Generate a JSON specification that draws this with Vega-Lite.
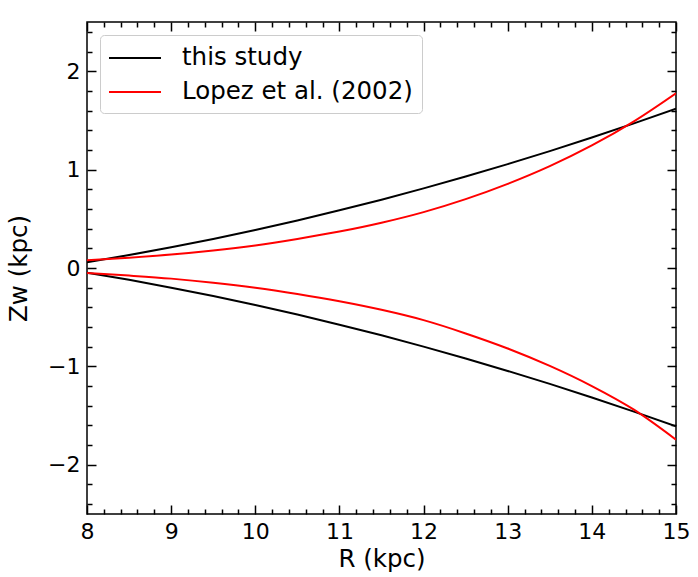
{
  "$schema": "https://vega.github.io/schema/vega-lite/v6.json",
  "width": 589,
  "height": 492,
  "autosize": {"type": "none"},
  "padding": {"left": 87, "top": 22, "right": 22, "bottom": 63},
  "background": "white",
  "config": {
    "view": {"stroke": "black", "strokeWidth": 1.5},
    "font": "DejaVu Sans",
    "axis": {
      "labelFont": "DejaVu Sans",
      "labelFontSize": 22,
      "labelColor": "black",
      "titleFont": "DejaVu Sans",
      "titleFontSize": 24.5,
      "titleFontWeight": "normal",
      "titleColor": "black",
      "tickColor": "black",
      "tickWidth": 1.5,
      "grid": false,
      "domain": false
    },
    "legend": {
      "labelFont": "DejaVu Sans",
      "labelFontSize": 24.5,
      "labelColor": "black"
    }
  },
  "data": {
    "values": [
      {"model": "this study", "curve": "ts_up", "R": 8.0, "Z": 0.058},
      {"model": "this study", "curve": "ts_up", "R": 8.5, "Z": 0.131},
      {"model": "this study", "curve": "ts_up", "R": 9.0, "Z": 0.21},
      {"model": "this study", "curve": "ts_up", "R": 9.5, "Z": 0.295},
      {"model": "this study", "curve": "ts_up", "R": 10.0, "Z": 0.386},
      {"model": "this study", "curve": "ts_up", "R": 10.5, "Z": 0.483},
      {"model": "this study", "curve": "ts_up", "R": 11.0, "Z": 0.586},
      {"model": "this study", "curve": "ts_up", "R": 11.5, "Z": 0.694},
      {"model": "this study", "curve": "ts_up", "R": 12.0, "Z": 0.809},
      {"model": "this study", "curve": "ts_up", "R": 12.5, "Z": 0.929},
      {"model": "this study", "curve": "ts_up", "R": 13.0, "Z": 1.056},
      {"model": "this study", "curve": "ts_up", "R": 13.5, "Z": 1.188},
      {"model": "this study", "curve": "ts_up", "R": 14.0, "Z": 1.326},
      {"model": "this study", "curve": "ts_up", "R": 14.5, "Z": 1.47},
      {"model": "this study", "curve": "ts_up", "R": 15.0, "Z": 1.62},
      {"model": "this study", "curve": "ts_low", "R": 8.0, "Z": -0.047},
      {"model": "this study", "curve": "ts_low", "R": 8.5, "Z": -0.12},
      {"model": "this study", "curve": "ts_low", "R": 9.0, "Z": -0.2},
      {"model": "this study", "curve": "ts_low", "R": 9.5, "Z": -0.285},
      {"model": "this study", "curve": "ts_low", "R": 10.0, "Z": -0.376},
      {"model": "this study", "curve": "ts_low", "R": 10.5, "Z": -0.473},
      {"model": "this study", "curve": "ts_low", "R": 11.0, "Z": -0.576},
      {"model": "this study", "curve": "ts_low", "R": 11.5, "Z": -0.684},
      {"model": "this study", "curve": "ts_low", "R": 12.0, "Z": -0.799},
      {"model": "this study", "curve": "ts_low", "R": 12.5, "Z": -0.92},
      {"model": "this study", "curve": "ts_low", "R": 13.0, "Z": -1.046},
      {"model": "this study", "curve": "ts_low", "R": 13.5, "Z": -1.178},
      {"model": "this study", "curve": "ts_low", "R": 14.0, "Z": -1.316},
      {"model": "this study", "curve": "ts_low", "R": 14.5, "Z": -1.46},
      {"model": "this study", "curve": "ts_low", "R": 15.0, "Z": -1.61},
      {"model": "Lopez et al. (2002)", "curve": "lz_up", "R": 8.0, "Z": 0.08},
      {"model": "Lopez et al. (2002)", "curve": "lz_up", "R": 8.5, "Z": 0.105},
      {"model": "Lopez et al. (2002)", "curve": "lz_up", "R": 9.0, "Z": 0.136},
      {"model": "Lopez et al. (2002)", "curve": "lz_up", "R": 9.5, "Z": 0.177},
      {"model": "Lopez et al. (2002)", "curve": "lz_up", "R": 10.0, "Z": 0.229},
      {"model": "Lopez et al. (2002)", "curve": "lz_up", "R": 10.5, "Z": 0.295},
      {"model": "Lopez et al. (2002)", "curve": "lz_up", "R": 11.0, "Z": 0.37},
      {"model": "Lopez et al. (2002)", "curve": "lz_up", "R": 11.5, "Z": 0.46},
      {"model": "Lopez et al. (2002)", "curve": "lz_up", "R": 12.0, "Z": 0.568},
      {"model": "Lopez et al. (2002)", "curve": "lz_up", "R": 12.5, "Z": 0.7},
      {"model": "Lopez et al. (2002)", "curve": "lz_up", "R": 13.0, "Z": 0.855},
      {"model": "Lopez et al. (2002)", "curve": "lz_up", "R": 13.5, "Z": 1.035},
      {"model": "Lopez et al. (2002)", "curve": "lz_up", "R": 14.0, "Z": 1.245},
      {"model": "Lopez et al. (2002)", "curve": "lz_up", "R": 14.5, "Z": 1.49},
      {"model": "Lopez et al. (2002)", "curve": "lz_up", "R": 15.0, "Z": 1.775},
      {"model": "Lopez et al. (2002)", "curve": "lz_low", "R": 8.0, "Z": -0.05},
      {"model": "Lopez et al. (2002)", "curve": "lz_low", "R": 8.5, "Z": -0.077},
      {"model": "Lopez et al. (2002)", "curve": "lz_low", "R": 9.0, "Z": -0.108},
      {"model": "Lopez et al. (2002)", "curve": "lz_low", "R": 9.5, "Z": -0.149},
      {"model": "Lopez et al. (2002)", "curve": "lz_low", "R": 10.0, "Z": -0.2},
      {"model": "Lopez et al. (2002)", "curve": "lz_low", "R": 10.5, "Z": -0.264},
      {"model": "Lopez et al. (2002)", "curve": "lz_low", "R": 11.0, "Z": -0.338},
      {"model": "Lopez et al. (2002)", "curve": "lz_low", "R": 11.5, "Z": -0.425},
      {"model": "Lopez et al. (2002)", "curve": "lz_low", "R": 12.0, "Z": -0.53},
      {"model": "Lopez et al. (2002)", "curve": "lz_low", "R": 12.5, "Z": -0.665},
      {"model": "Lopez et al. (2002)", "curve": "lz_low", "R": 13.0, "Z": -0.818},
      {"model": "Lopez et al. (2002)", "curve": "lz_low", "R": 13.5, "Z": -0.995},
      {"model": "Lopez et al. (2002)", "curve": "lz_low", "R": 14.0, "Z": -1.2},
      {"model": "Lopez et al. (2002)", "curve": "lz_low", "R": 14.5, "Z": -1.44},
      {"model": "Lopez et al. (2002)", "curve": "lz_low", "R": 15.0, "Z": -1.745}
    ]
  },
  "resolve": {"axis": {"x": "independent", "y": "independent"}},
  "layer": [
    {
      "mark": {"type": "line", "strokeWidth": 2, "interpolate": "monotone", "clip": true},
      "encoding": {
        "x": {
          "field": "R", "type": "quantitative",
          "scale": {"domain": [8, 15], "nice": false, "zero": false},
          "axis": {"orient": "bottom", "values": [8, 9, 10, 11, 12, 13, 14, 15], "tickSize": -9, "labelPadding": 16, "title": "R (kpc)", "titlePadding": 5, "labelFlush": false}
        },
        "y": {
          "field": "Z", "type": "quantitative",
          "scale": {"domain": [-2.5, 2.5], "nice": false, "zero": false},
          "axis": {"orient": "left", "values": [-2, -1, 0, 1, 2], "tickSize": -9, "labelPadding": 16, "title": "Zw (kpc)", "titlePadding": 16, "labelFlush": false}
        },
        "color": {
          "field": "model", "type": "nominal",
          "scale": {"domain": ["this study", "Lopez et al. (2002)"], "range": ["#000000", "#ff0000"]},
          "legend": {
            "title": null, "orient": "top-left", "offset": 13,
            "symbolType": "M-1.077,0H2.923", "symbolSize": 676, "symbolStrokeWidth": 2,
            "labelOffset": 45, "labelLimit": 500, "rowPadding": 8, "padding": 9,
            "strokeColor": "#cccccc", "fillColor": "white", "cornerRadius": 4
          }
        },
        "detail": {"field": "curve"}
      }
    },
    {
      "mark": {"type": "line", "opacity": 0},
      "encoding": {
        "x": {
          "field": "R", "type": "quantitative",
          "axis": {"orient": "bottom", "values": [8.2, 8.4, 8.6, 8.8, 9.2, 9.4, 9.6, 9.8, 10.2, 10.4, 10.6, 10.8, 11.2, 11.4, 11.6, 11.8, 12.2, 12.4, 12.6, 12.8, 13.2, 13.4, 13.6, 13.8, 14.2, 14.4, 14.6, 14.8], "tickSize": -5, "labels": false, "title": null}
        },
        "y": {
          "field": "Z", "type": "quantitative",
          "axis": {"orient": "left", "values": [-2.4, -2.2, -1.8, -1.6, -1.4, -1.2, -0.8, -0.6, -0.4, -0.2, 0.2, 0.4, 0.6, 0.8, 1.2, 1.4, 1.6, 1.8, 2.2, 2.4], "tickSize": -5, "labels": false, "title": null}
        },
        "detail": {"field": "curve"}
      }
    },
    {
      "mark": {"type": "line", "opacity": 0},
      "encoding": {
        "x": {
          "field": "R", "type": "quantitative",
          "axis": {"orient": "top", "values": [8, 9, 10, 11, 12, 13, 14, 15], "tickSize": -9, "labels": false, "title": null}
        },
        "y": {
          "field": "Z", "type": "quantitative",
          "axis": {"orient": "right", "values": [-2, -1, 0, 1, 2], "tickSize": -9, "labels": false, "title": null}
        },
        "detail": {"field": "curve"}
      }
    },
    {
      "mark": {"type": "line", "opacity": 0},
      "encoding": {
        "x": {
          "field": "R", "type": "quantitative",
          "axis": {"orient": "top", "values": [8.2, 8.4, 8.6, 8.8, 9.2, 9.4, 9.6, 9.8, 10.2, 10.4, 10.6, 10.8, 11.2, 11.4, 11.6, 11.8, 12.2, 12.4, 12.6, 12.8, 13.2, 13.4, 13.6, 13.8, 14.2, 14.4, 14.6, 14.8], "tickSize": -5, "labels": false, "title": null}
        },
        "y": {
          "field": "Z", "type": "quantitative",
          "axis": {"orient": "right", "values": [-2.4, -2.2, -1.8, -1.6, -1.4, -1.2, -0.8, -0.6, -0.4, -0.2, 0.2, 0.4, 0.6, 0.8, 1.2, 1.4, 1.6, 1.8, 2.2, 2.4], "tickSize": -5, "labels": false, "title": null}
        },
        "detail": {"field": "curve"}
      }
    }
  ]
}
